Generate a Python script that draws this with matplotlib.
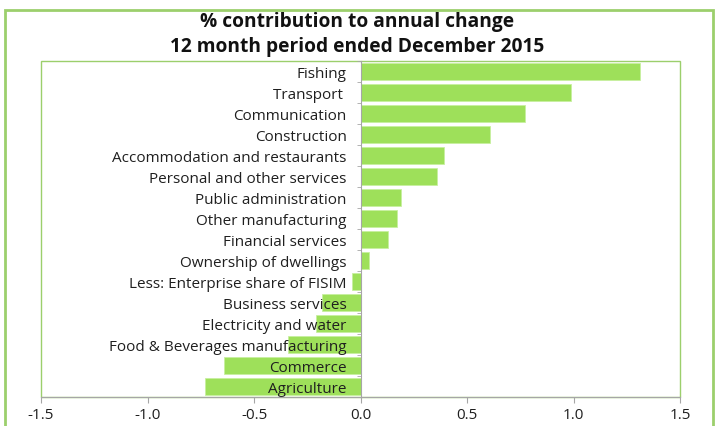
import numpy as np
import matplotlib.pyplot as plt
from matplotlib.patches import Rectangle

plt.rcParams['font.family'] = ['Open Sans', 'DejaVu Sans']

sectors = ["Fishing", "Transport ", "Communication", "Construction",
           "Accommodation and restaurants", "Personal and other services",
           "Public administration", "Other manufacturing", "Financial services",
           "Ownership of dwellings", "Less: Enterprise share of FISIM",
           "Business services", "Electricity and water",
           "Food & Beverages manufacturing", "Commerce", "Agriculture"]
contrib = [1.31, 0.99, 0.77, 0.61, 0.39, 0.36, 0.19, 0.17, 0.13, 0.04,
           -0.04, -0.18, -0.21, -0.34, -0.64, -0.73]

title = "% contribution to annual change\n12 month period ended December 2015"
xticks = [-1.5, -1.0, -0.5, 0.0, 0.5, 1.0, 1.5]

bar_green = "#9ee05a"
frame_green = "#9ccf6c"
axis_grey = "#a6a6a6"

fig = plt.figure(figsize=(7.15, 4.27), dpi=100)
ax = fig.add_axes([41/715, 1 - 398/427, (680 - 41)/715, (398 - 62)/427])

pos = np.arange(len(sectors))
ax.barh(pos, contrib, height=0.8, color=bar_green, edgecolor="#c8f0a0",
        linewidth=0.6, zorder=1)
ax.set_ylim(len(sectors) - 0.5, -0.5)
ax.set_xlim(-1.5, 1.5)

# category labels sit against the zero line
ax.spines['left'].set_position(('data', 0))
ax.spines['left'].set_color(axis_grey)
ax.spines['bottom'].set_color(axis_grey)
ax.spines['top'].set_visible(False)
ax.spines['right'].set_visible(False)
ax.add_patch(Rectangle((0, 0), 1, 1, transform=ax.transAxes, fill=False,
                       edgecolor=frame_green, linewidth=1.0, zorder=0,
                       clip_on=False))

ax.set_yticks(pos)
ax.set_yticklabels(sectors, fontsize=11, color="#1f1f1f")
ax.set_yticks(np.arange(len(sectors) + 1) - 0.5, minor=True)
ax.tick_params(axis='y', which='major', length=0, pad=10)
ax.tick_params(axis='y', which='minor', length=3, color=axis_grey,
               direction='out')

ax.set_xticks(xticks)
ax.set_xticklabels([f"{t:.1f}" for t in xticks], fontsize=11, color="#1f1f1f")
ax.tick_params(axis='x', length=4, color=axis_grey, direction='out', pad=3)

fig.text(0.5, 1 - 34.5/427, title, ha='center', va='center', fontsize=13.8,
         fontweight='bold', linespacing=1.3, color="#111111")

fig.patches.append(Rectangle((5/715, -0.02), (713 - 5)/715, 1.02 - 11/427,
                             transform=fig.transFigure, fill=False,
                             edgecolor=frame_green, linewidth=2))

fig.savefig("out.png", dpi=100)
